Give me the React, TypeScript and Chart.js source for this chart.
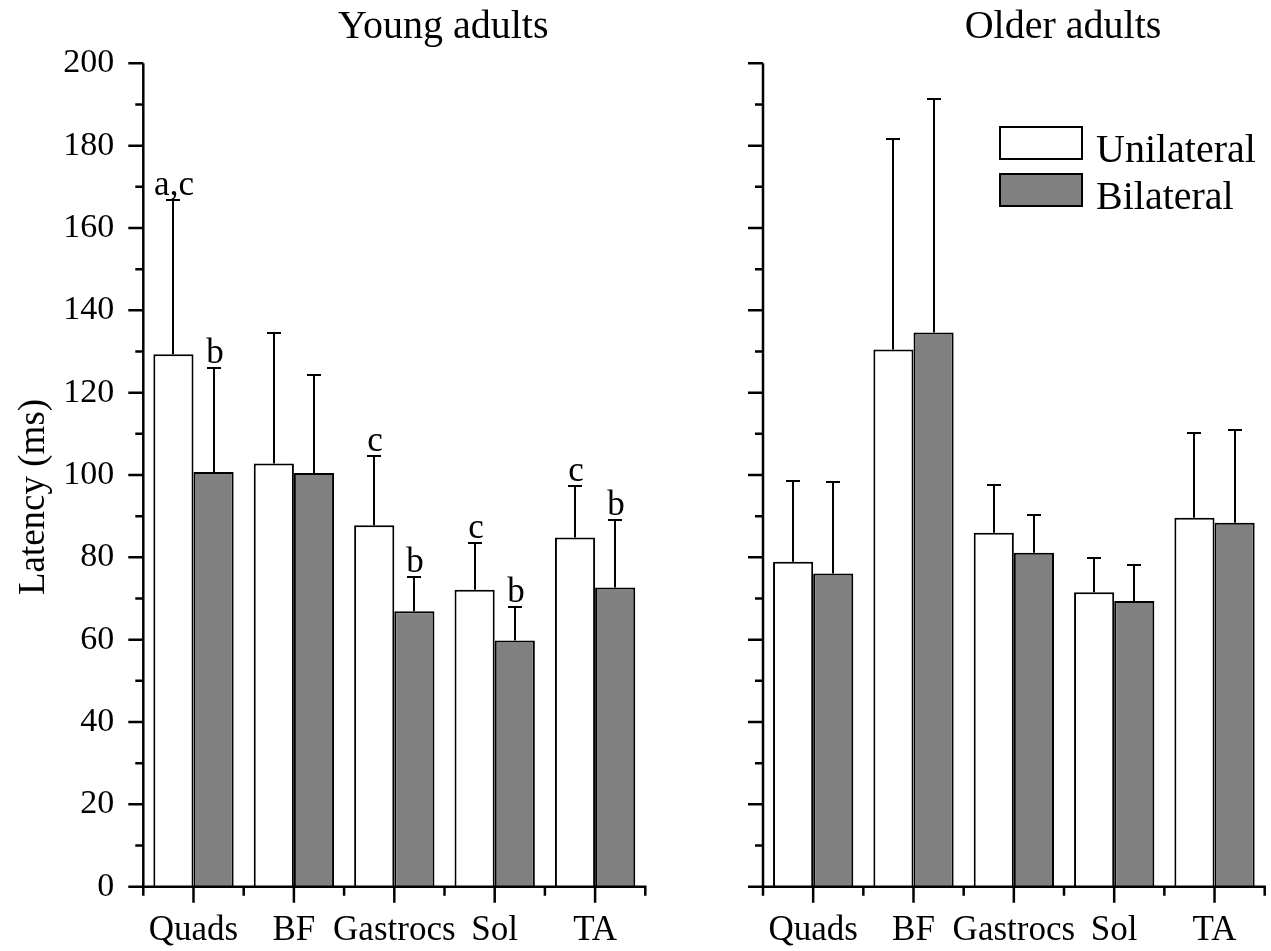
import React, { useEffect, useRef } from 'react';
import { Chart, registerables } from 'chart.js';
Chart.register(...registerables);

const muscles = ['Quads', 'BF', 'Gastrocs', 'Sol', 'TA'];
const seriesNames = ['Unilateral', 'Bilateral'];

const youngUnilateral = [129.3, 102.8, 87.8, 72.1, 84.8];
const youngUnilateralSD = [37.5, 31.6, 16.8, 11.3, 12.6];
const youngBilateral = [100.7, 100.5, 66.9, 59.8, 72.7];
const youngBilateralSD = [25.4, 23.8, 8.3, 8.1, 16.3];

const olderUnilateral = [78.9, 130.5, 86.0, 71.5, 89.6];
const olderUnilateralSD = [19.7, 51.2, 11.6, 8.3, 20.5];
const olderBilateral = [76.1, 134.6, 81.1, 69.4, 88.4];
const olderBilateralSD = [22.3, 56.7, 9.1, 8.8, 22.5];

const youngUnilateralMarks = ['a,c', '', 'c', 'c', 'c'];
const youngBilateralMarks = ['b', '', 'b', 'b', 'b'];
const olderUnilateralMarks = ['', '', '', '', ''];
const olderBilateralMarks = ['', '', '', '', ''];

const yMin = 0;
const yMax = 200;
const yMajorStep = 20;
const yMinorStep = 10;

const FONT = "'Liberation Serif', 'Times New Roman', serif";

const decorPlugin = {
  id: 'decor',
  afterDatasetsDraw(chart: any, _args: any, opts: any) {
    const { ctx, chartArea: a, scales } = chart;
    const x = scales.x;
    const y = scales.y;
    ctx.save();
    ctx.strokeStyle = '#000';
    ctx.fillStyle = '#000';

    // error bars + marks
    chart.data.datasets.forEach((ds: any, di: number) => {
      const meta = chart.getDatasetMeta(di);
      meta.data.forEach((el: any, i: number) => {
        const v = ds.data[i];
        const sd = ds.sd[i];
        const px = Math.round(el.x);
        const yTop = y.getPixelForValue(v);
        const yCap = Math.round(y.getPixelForValue(v + sd));
        ctx.lineWidth = 2;
        ctx.beginPath();
        ctx.moveTo(px, yTop);
        ctx.lineTo(px, yCap);
        ctx.moveTo(px - 7, yCap);
        ctx.lineTo(px + 7, yCap);
        ctx.stroke();
        const mark = ds.marks[i];
        if (mark) {
          ctx.font = `35px ${FONT}`;
          ctx.textAlign = 'center';
          ctx.textBaseline = 'alphabetic';
          ctx.fillText(mark, px + 1, yCap - 5);
        }
      });
    });

    // axes
    ctx.lineWidth = 2.5;
    ctx.lineCap = 'butt';
    const y0 = y.getPixelForValue(yMin);
    const yT = y.getPixelForValue(yMax);
    ctx.beginPath();
    ctx.moveTo(a.left, yT);
    ctx.lineTo(a.left, y0 + 1.25);
    ctx.moveTo(a.left - 1.25, y0);
    ctx.lineTo(a.right + 1.25, y0);
    for (let v = yMin; v <= yMax; v += yMinorStep) {
      const py = y.getPixelForValue(v);
      const len = v % yMajorStep === 0 ? 15 : 8;
      ctx.moveTo(a.left, py);
      ctx.lineTo(a.left - len, py);
    }
    for (let i = 0; i < muscles.length; i++) {
      const pc = x.getPixelForValue(i);
      ctx.moveTo(pc, y0);
      ctx.lineTo(pc, y0 + 16);
    }
    for (let i = 0; i <= muscles.length; i++) {
      const pb = x.getPixelForValue(i - 0.5);
      ctx.moveTo(pb, y0);
      ctx.lineTo(pb, y0 + 9);
    }
    ctx.stroke();

    // panel title
    ctx.font = `40px ${FONT}`;
    ctx.textAlign = 'center';
    ctx.textBaseline = 'alphabetic';
    ctx.fillText(opts.title, a.left + 300, 38);

    // y axis title
    if (opts.yTitle) {
      ctx.save();
      ctx.font = `37px ${FONT}`;
      ctx.translate(34, 497);
      ctx.rotate(-Math.PI / 2);
      ctx.textAlign = 'center';
      ctx.textBaseline = 'middle';
      ctx.fillText(opts.yTitle, 0, 0);
      ctx.restore();
    }

    // legend
    if (opts.legend) {
      const bx = a.left + 237;
      const tops = [127, 174];
      chart.data.datasets.forEach((ds: any, di: number) => {
        const ty = tops[di];
        ctx.fillStyle = ds.backgroundColor;
        ctx.fillRect(bx, ty, 82, 32);
        ctx.lineWidth = 2;
        ctx.strokeStyle = '#000';
        ctx.strokeRect(bx, ty, 82, 32);
        ctx.fillStyle = '#000';
        ctx.font = `40px ${FONT}`;
        ctx.textAlign = 'left';
        ctx.textBaseline = 'alphabetic';
        ctx.fillText(ds.label, bx + 96, ty + 35);
      });
    }
    ctx.restore();
  },
};

function makeConfig(
  uni: number[], uniSD: number[], uniMarks: string[],
  bi: number[], biSD: number[], biMarks: string[],
  yAxisWidth: number, padRight: number, showYLabels: boolean,
  title: string, yTitle: string, legend: boolean
): any {
  return {
    type: 'bar',
    data: {
      labels: muscles,
      datasets: [
        {
          label: seriesNames[0], data: uni, sd: uniSD, marks: uniMarks,
          backgroundColor: '#ffffff', borderColor: '#000000', borderWidth: 2,
          categoryPercentage: 0.8, barPercentage: 1,
        },
        {
          label: seriesNames[1], data: bi, sd: biSD, marks: biMarks,
          backgroundColor: '#808080', borderColor: '#000000', borderWidth: 2,
          categoryPercentage: 0.8, barPercentage: 1,
        },
      ],
    },
    options: {
      animation: false,
      responsive: false,
      maintainAspectRatio: false,
      layout: { padding: { left: 0, right: padRight, top: 63.3, bottom: 0 } },
      plugins: {
        legend: { display: false },
        tooltip: { enabled: false },
        title: { display: false },
        decor: { title, yTitle, legend },
      },
      scales: {
        x: {
          grid: { display: false, drawTicks: false },
          border: { display: false },
          ticks: {
            color: '#000', font: { family: FONT, size: 35 }, padding: 23,
            maxRotation: 0, autoSkip: false,
          },
          afterFit(s: any) { s.height = 951 - 886.7; },
        },
        y: {
          min: yMin, max: yMax,
          grid: { display: false, drawTicks: false },
          border: { display: false },
          ticks: {
            stepSize: yMajorStep, color: '#000', font: { family: FONT, size: 34 }, padding: 29,
            callback: (v: any) => (showYLabels ? String(v) : ''),
          },
          afterFit(s: any) { s.width = yAxisWidth; },
        },
      },
    },
    plugins: [decorPlugin],
  };
}

export default function App() {
  const leftRef = useRef<HTMLCanvasElement>(null);
  const rightRef = useRef<HTMLCanvasElement>(null);

  useEffect(() => {
    const c1 = new Chart(leftRef.current as HTMLCanvasElement, makeConfig(
      youngUnilateral, youngUnilateralSD, youngUnilateralMarks,
      youngBilateral, youngBilateralSD, youngBilateralMarks,
      143.3, 700 - 645.3, true, 'Young adults', 'Latency (ms)', false
    ));
    const c2 = new Chart(rightRef.current as HTMLCanvasElement, makeConfig(
      olderUnilateral, olderUnilateralSD, olderUnilateralMarks,
      olderBilateral, olderBilateralSD, olderBilateralMarks,
      763 - 640, 631 - (1264.7 - 640), false, 'Older adults', '', true
    ));
    return () => { c1.destroy(); c2.destroy(); };
  }, []);

  return (
    <div style={{ position: 'fixed', left: 0, top: 0, width: 1271, height: 951, background: '#fff' }}>
      <canvas ref={leftRef} width={700} height={951} style={{ position: 'absolute', left: 0, top: 0 }} />
      <canvas ref={rightRef} width={631} height={951} style={{ position: 'absolute', left: 640, top: 0 }} />
    </div>
  );
}
